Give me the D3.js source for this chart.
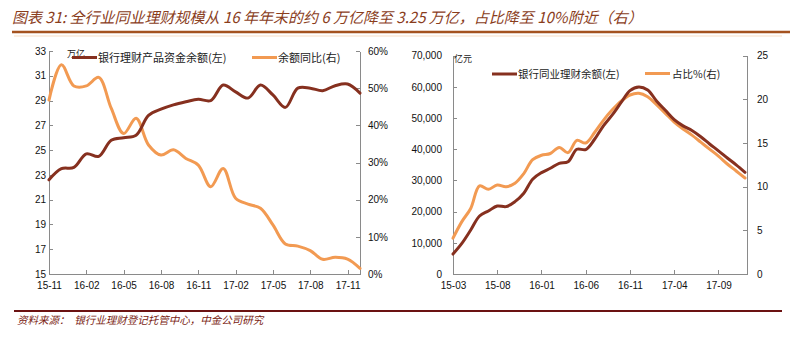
<!DOCTYPE html>
<html><head><meta charset="utf-8">
<script src="https://cdn.jsdelivr.net/npm/d3@7/dist/d3.min.js"></script>
<style>
body{margin:0;background:#fff;}
svg{display:block;}
.ax text{font-family:"Liberation Sans",Arial,sans-serif;font-size:10px;fill:#111;}
.ax path,.ax line{stroke:#8a8a8a;stroke-width:1;shape-rendering:crispEdges;}
.cjk{font-family:"Noto Sans CJK SC",sans-serif;}
</style></head>
<body><svg id="c" width="802" height="337"></svg>
<script>
// ---------- data ----------
const leftMonths = ["15-11","15-12","16-01","16-02","16-03","16-04","16-05","16-06","16-07","16-08","16-09","16-10","16-11","16-12","17-01","17-02","17-03","17-04","17-05","17-06","17-07","17-08","17-09","17-10","17-11","17-12"];
const leftBalance = [22.6,23.5,23.6,24.7,24.5,25.8,26.0,26.2,27.8,28.3,28.65,28.9,29.1,29.0,30.25,29.7,29.2,30.25,29.45,28.45,30.0,30.0,29.8,30.2,30.33,29.6];
const leftYoY = [46.8,56.3,50.6,50.6,52.9,44.6,37.8,41.9,34.7,32.0,33.4,31.1,29.3,23.5,28.4,20.4,18.8,17.7,13.2,8.1,7.5,6.3,3.95,4.5,4.0,1.5];
const leftTickLabels = ["15-11","16-02","16-05","16-08","16-11","17-02","17-05","17-08","17-11"];
const leftYTicks = [15,17,19,21,23,25,27,29,31,33];
const leftY2Ticks = [0,10,20,30,40,50,60];

const rightMonths = ["15-03","15-04","15-05","15-06","15-07","15-08","15-09","15-10","15-11","15-12","16-01","16-02","16-03","16-04","16-05","16-06","16-07","16-08","16-09","16-10","16-11","16-12","17-01","17-02","17-03","17-04","17-05","17-06","17-07","17-08","17-09","17-10","17-11","17-12"];
const rightBalance = [6400,9800,14100,18600,20200,21800,21600,23200,25900,30400,32500,33900,35500,36000,40000,39900,43200,47500,51000,55000,58800,60000,59000,55500,52500,49500,47500,46000,44000,41700,39500,37200,35000,32600];
const rightShare = [4.1,6.0,7.5,10.1,9.7,10.2,10.0,10.4,11.5,13.1,13.6,13.8,14.5,13.9,15.3,15.0,16.2,17.6,18.8,19.8,20.5,20.7,20.3,19.4,18.4,17.4,16.6,15.9,15.1,14.3,13.5,12.6,11.8,11.0];
const rightTickLabels = ["15-03","15-08","16-01","16-06","16-11","17-04","17-09"];
const rightYTicks = [0,10000,20000,30000,40000,50000,60000,70000];
const rightY2Ticks = [0,5,10,15,20,25];

const titleText = "图表 31: 全行业同业理财规模从 16 年年末的约 6 万亿降至 3.25 万亿，占比降至 10%附近（右）";
const sourceText = "资料来源：  银行业理财登记托管中心，中金公司研究";
const leftLegend = ["银行理财产品资金余额(左)","余额同比(右)"];
const rightLegend = ["银行同业理财余额(左)","占比%(右)"];

const BROWN = "#86301f", ORANGE = "#f29a52";

const svg = d3.select("#c");

// title + rules
svg.append("text").attr("class","cjk").attr("x",12).attr("y",23)
  .attr("font-size",15).attr("font-style","italic").attr("fill","#8a3d1c").text(titleText);
svg.append("line").attr("x1",12).attr("x2",790).attr("y1",32).attr("y2",32)
  .attr("stroke","#a4521f").attr("stroke-width",2.5);
svg.append("line").attr("x1",14).attr("x2",782).attr("y1",36).attr("y2",36)
  .attr("stroke","#fbeee2").attr("stroke-width",2);
svg.append("line").attr("x1",14).attr("x2",782).attr("y1",311).attr("y2",311)
  .attr("stroke","#6b1212").attr("stroke-width",2);
svg.append("text").attr("class","cjk").attr("x",17).attr("y",324)
  .attr("font-size",10.5).attr("font-style","italic").attr("fill","#7a1c12")
  .attr("xml:space","preserve").style("white-space","pre").text(sourceText);

function drawLine(g, months, vals, x, y, color){
  const line = d3.line().x((d,i)=>x(months[i])).y(d=>y(d)).curve(d3.curveCatmullRom.alpha(0.5));
  g.append("path").datum(vals).attr("d",line).attr("fill","none")
    .attr("stroke",color).attr("stroke-width",3).attr("stroke-linejoin","round").attr("stroke-linecap","round");
}

// ---------- left chart ----------
{
  const g = svg.append("g");
  const x = d3.scalePoint().domain(leftMonths).range([49,360]);
  const y = d3.scaleLinear().domain([15,33]).range([274,51]);
  const y2 = d3.scaleLinear().domain([0,60]).range([274,51]);
  g.append("g").attr("class","ax").attr("transform","translate(49,0)")
    .call(d3.axisLeft(y).tickValues(leftYTicks).tickSize(-4).tickSizeOuter(0).tickPadding(3));
  g.append("g").attr("class","ax").attr("transform","translate(360,0)")
    .call(d3.axisRight(y2).tickValues(leftY2Ticks).tickFormat(d=>d+"%").tickSize(-4).tickSizeOuter(0).tickPadding(8));
  g.append("g").attr("class","ax").attr("transform","translate(0,274)")
    .call(d3.axisBottom(x).tickValues(leftTickLabels).tickSize(-4).tickSizeOuter(0).tickPadding(8));
  drawLine(g, leftMonths, leftYoY, x, y2, ORANGE);
  drawLine(g, leftMonths, leftBalance, x, y, BROWN);
  g.append("text").attr("class","cjk").attr("x",67).attr("y",57).attr("font-size",9).attr("fill","#222").text("万亿");
  g.append("line").attr("x1",72).attr("x2",97).attr("y1",57.5).attr("y2",57.5).attr("stroke",BROWN).attr("stroke-width",3);
  g.append("text").attr("class","cjk").attr("x",98).attr("y",61.5).attr("font-size",11).attr("fill","#222").text(leftLegend[0]);
  g.append("line").attr("x1",252).attr("x2",277).attr("y1",57.5).attr("y2",57.5).attr("stroke",ORANGE).attr("stroke-width",3);
  g.append("text").attr("class","cjk").attr("x",278).attr("y",61.5).attr("font-size",11).attr("fill","#222").text(leftLegend[1]);
}

// ---------- right chart ----------
{
  const g = svg.append("g");
  const x = d3.scalePoint().domain(rightMonths).range([453,745]);
  const y = d3.scaleLinear().domain([0,70000]).range([274,55.7]);
  const y2 = d3.scaleLinear().domain([0,25]).range([274,55.7]);
  g.append("g").attr("class","ax").attr("transform","translate(453,0)")
    .call(d3.axisLeft(y).tickValues(rightYTicks).tickFormat(d3.format(",")).tickSize(-4).tickSizeOuter(0).tickPadding(11));
  g.append("g").attr("class","ax").attr("transform","translate(747,0)")
    .call(d3.axisRight(y2).tickValues(rightY2Ticks).tickSize(-4).tickSizeOuter(0).tickPadding(10));
  const xa = g.append("g").attr("class","ax").attr("transform","translate(0,274)")
    .call(d3.axisBottom(x).tickValues(rightTickLabels).tickSize(-4).tickSizeOuter(0).tickPadding(8));
  xa.select(".domain").attr("d","M453,0H747");
  drawLine(g, rightMonths, rightShare, x, y2, ORANGE);
  drawLine(g, rightMonths, rightBalance, x, y, BROWN);
  g.append("text").attr("class","cjk").attr("x",454).attr("y",62).attr("font-size",9).attr("fill","#222").text("亿元");
  g.append("line").attr("x1",492).attr("x2",517).attr("y1",74).attr("y2",74).attr("stroke",BROWN).attr("stroke-width",3);
  g.append("text").attr("class","cjk").attr("x",518).attr("y",78).attr("font-size",10.5).attr("fill","#222").text(rightLegend[0]);
  g.append("line").attr("x1",645).attr("x2",670).attr("y1",73.5).attr("y2",73.5).attr("stroke",ORANGE).attr("stroke-width",3);
  g.append("text").attr("class","cjk").attr("x",672).attr("y",78).attr("font-size",10.5).attr("fill","#222").text(rightLegend[1]);
}
</script></body></html>
